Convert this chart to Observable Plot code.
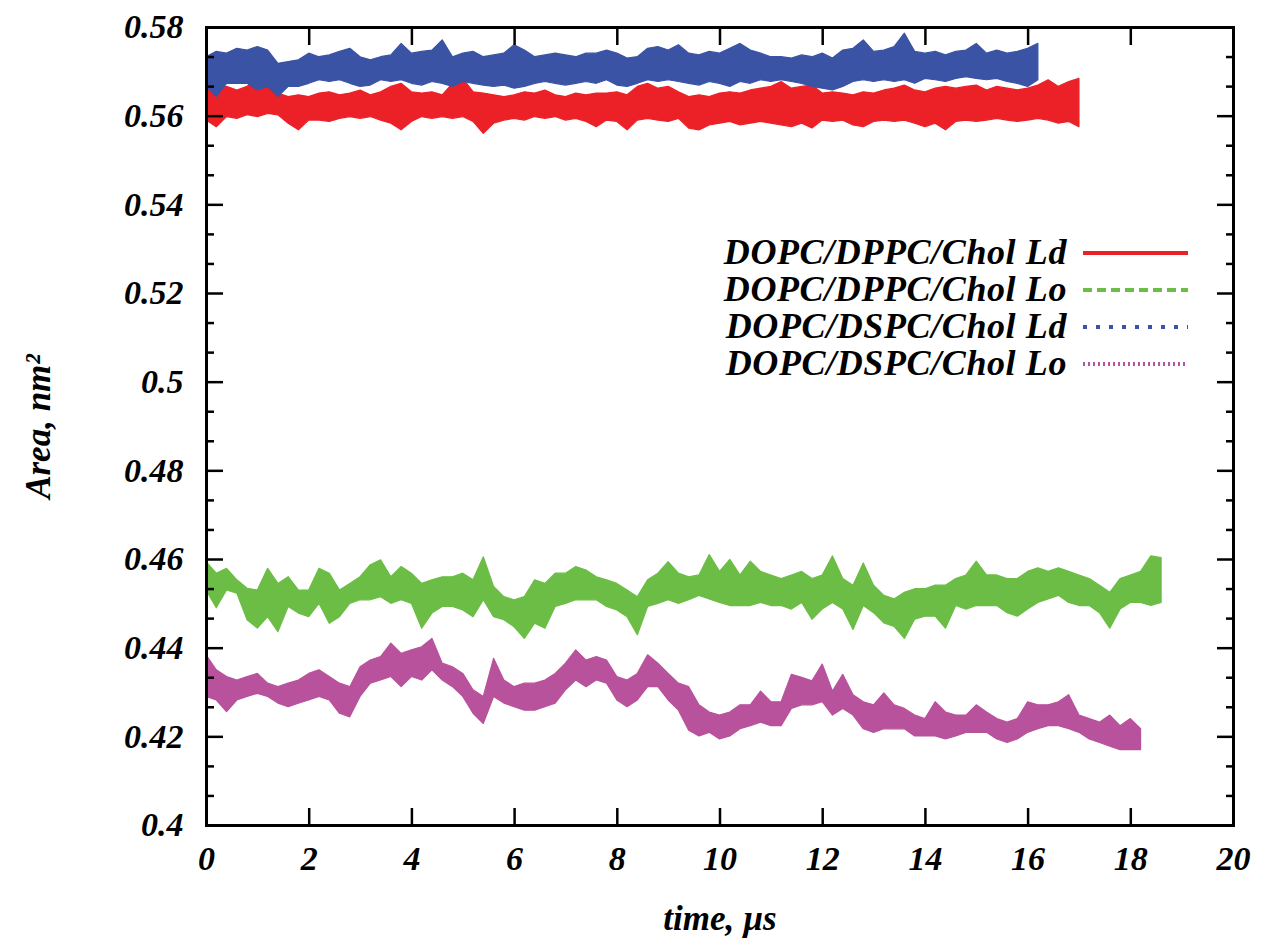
<!DOCTYPE html>
<html><head><meta charset="utf-8">
<script src="https://cdn.jsdelivr.net/npm/d3@7"></script>
<script src="https://cdn.jsdelivr.net/npm/@observablehq/plot@0.6"></script>
<style>
body{margin:0;background:#fff;}
#wrap{position:relative;width:1262px;height:939px;background:#fff;}
.leg{position:absolute;font-family:"Liberation Serif","Times New Roman",serif;font-weight:bold;font-style:italic;font-size:36px;letter-spacing:0.6px;line-height:38px;white-space:nowrap;text-align:right;color:#000;}
.legline{position:absolute;}
</style></head><body><div id="wrap"></div><script>
// sampling step of the traces (microseconds)
const dt = 0.2;

const seriesNames = ["DOPC/DPPC/Chol Ld", "DOPC/DPPC/Chol Lo", "DOPC/DSPC/Chol Ld", "DOPC/DSPC/Chol Lo"];
const seriesColors = ["#ec2127", "#6bbd45", "#3a53a4", "#b8529c"];
const legendDash = ["none", "9,5", "4,9", "2,3"];

// upper / lower envelope of each noisy trace, every 0.2 µs
const redHi = [0.5658,0.5662,0.5666,0.5658,0.5666,0.5688,0.5677,0.5651,0.5643,0.5647,
0.5643,0.5651,0.5654,0.5647,0.5651,0.5658,0.5647,0.5654,0.5666,0.5673,
0.5654,0.5651,0.5654,0.5647,0.5673,0.5684,0.5654,0.5651,0.5647,0.5643,
0.5647,0.5654,0.5651,0.5658,0.5647,0.5643,0.5651,0.5647,0.5651,
0.5651,0.5654,0.5647,0.5666,0.5673,0.5662,0.5666,0.5654,0.5643,0.5647,0.5643,
0.5651,0.5654,0.5651,0.5658,0.5662,0.5666,
0.5677,0.5662,0.5666,0.5669,
0.5651,0.5654,0.5651,0.5647,0.5654,
0.5651,0.5658,0.5662,0.5669,0.5658,
0.5654,0.5662,0.5666,0.5662,0.5666,
0.5669,0.5658,0.5666,0.5662,0.5658,
0.5662,0.5669,0.5681,0.5666,0.5677,
0.5684];
const redLo = [0.5590,0.5575,0.5598,0.5594,0.5602,0.5598,0.5605,0.5602,0.5583,0.5568,
0.5590,0.5590,0.5587,0.5594,0.5598,0.5594,0.5598,0.5590,0.5583,0.5568,
0.5587,0.5598,0.5594,0.5598,0.5594,0.5598,0.5587,0.5560,0.5583,0.5590,
0.5594,0.5590,0.5598,0.5594,0.5598,0.5590,0.5594,0.5587,0.5575,
0.5590,0.5587,0.5568,0.5590,0.5594,0.5590,0.5587,0.5594,0.5572,0.5568,0.5579,
0.5583,0.5587,0.5579,0.5583,0.5587,0.5583,
0.5579,0.5575,0.5583,0.5572,
0.5590,0.5587,0.5590,0.5579,0.5575,
0.5587,0.5590,0.5587,0.5590,0.5583,
0.5575,0.5583,0.5568,0.5587,0.5590,
0.5587,0.5590,0.5594,0.5590,0.5587,
0.5590,0.5594,0.5590,0.5583,0.5587,
0.5575];

const greenHi = [0.4594,0.4568,0.4579,0.4553,0.4534,0.4530,0.4579,0.4545,0.4560,0.4530,
0.4530,0.4579,0.4568,0.4530,0.4545,0.4560,0.4587,0.4598,0.4560,0.4583,
0.4568,0.4545,0.4553,0.4560,0.4560,0.4568,0.4553,0.4605,0.4538,0.4515,
0.4508,0.4515,0.4553,0.4545,0.4568,0.4568,0.4583,0.4575,0.4560,0.4553,
0.4545,0.4530,0.4515,0.4553,0.4568,0.4594,0.4568,0.4560,0.4564,0.4610,
0.4572,0.4599,0.4564,0.4595,0.4572,0.4564,0.4556,0.4564,0.4572,0.4556,
0.4564,0.4607,0.4556,0.4541,0.4591,0.4541,0.4518,0.4510,0.4525,0.4533,
0.4533,0.4541,0.4541,0.4556,0.4564,0.4595,0.4564,0.4564,0.4556,0.4556,
0.4572,0.4580,0.4572,0.4580,0.4572,0.4564,0.4556,0.4541,0.4525,0.4556,
0.4564,0.4572,0.4607,0.4603];
const greenLo = [0.4530,0.4490,0.4530,0.4523,0.4463,0.4444,0.4470,0.4436,0.4493,0.4478,
0.4470,0.4500,0.4455,0.4470,0.4500,0.4508,0.4508,0.4515,0.4500,0.4508,
0.4500,0.4444,0.4478,0.4493,0.4493,0.4485,0.4470,0.4508,0.4470,0.4463,
0.4447,0.4421,0.4455,0.4444,0.4493,0.4500,0.4508,0.4508,0.4508,0.4493,
0.4485,0.4470,0.4429,0.4493,0.4500,0.4508,0.4500,0.4508,0.4518,0.4510,
0.4502,0.4495,0.4495,0.4495,0.4502,0.4495,0.4495,0.4487,0.4502,0.4464,
0.4487,0.4502,0.4487,0.4441,0.4495,0.4479,0.4456,0.4448,0.4421,0.4464,
0.4471,0.4471,0.4444,0.4495,0.4487,0.4495,0.4495,0.4495,0.4479,0.4471,
0.4487,0.4502,0.4510,0.4518,0.4502,0.4495,0.4495,0.4479,0.4444,0.4487,
0.4502,0.4502,0.4495,0.4502];

const blueHi = [0.5733,0.5745,0.5741,0.5752,0.5748,0.5756,0.5748,0.5718,0.5722,0.5726,
0.5741,0.5733,0.5737,0.5745,0.5752,0.5733,0.5726,0.5733,0.5737,0.5763,
0.5741,0.5745,0.5748,0.5771,0.5733,0.5741,0.5745,0.5733,0.5737,0.5741,
0.5760,0.5748,0.5733,0.5737,0.5741,0.5737,0.5733,0.5741,0.5741,
0.5748,0.5741,0.5730,0.5733,0.5752,0.5756,0.5748,0.5760,0.5741,0.5737,0.5745,
0.5741,0.5752,0.5763,0.5748,0.5741,0.5733,
0.5733,0.5730,0.5737,0.5733,
0.5741,0.5730,0.5748,0.5752,0.5771,
0.5745,0.5748,0.5756,0.5786,0.5745,
0.5741,0.5745,0.5737,0.5745,0.5748,
0.5763,0.5741,0.5748,0.5741,0.5745,
0.5752,0.5763];
const blueLo = [0.5666,0.5643,0.5673,0.5673,0.5673,0.5658,0.5666,0.5643,0.5666,0.5666,
0.5673,0.5681,0.5677,0.5681,0.5673,0.5666,0.5669,0.5681,0.5677,0.5681,
0.5673,0.5669,0.5677,0.5673,0.5666,0.5677,0.5673,0.5669,0.5666,0.5669,
0.5662,0.5666,0.5673,0.5677,0.5673,0.5669,0.5673,0.5677,0.5673,
0.5681,0.5669,0.5666,0.5673,0.5681,0.5677,0.5681,0.5677,0.5673,0.5669,0.5677,
0.5673,0.5666,0.5677,0.5673,0.5681,0.5677,
0.5681,0.5677,0.5673,0.5666,
0.5662,0.5658,0.5666,0.5677,0.5681,
0.5677,0.5681,0.5677,0.5681,0.5673,
0.5684,0.5681,0.5677,0.5684,0.5688,
0.5684,0.5681,0.5684,0.5677,0.5673,
0.5666,0.5681];

const magentaHi = [0.4384,0.4350,0.4335,0.4327,0.4335,0.4342,0.4320,0.4312,0.4320,0.4327,
0.4342,0.4350,0.4335,0.4320,0.4312,0.4357,0.4372,0.4380,0.4410,0.4387,
0.4395,0.4402,0.4421,0.4365,0.4357,0.4342,0.4305,0.4290,0.4376,0.4327,
0.4312,0.4320,0.4320,0.4327,0.4342,0.4365,0.4395,0.4372,0.4380,0.4372,
0.4335,0.4327,0.4342,0.4384,0.4365,0.4342,0.4320,0.4312,0.4271,0.4255,
0.4248,0.4255,0.4271,0.4271,0.4302,0.4278,0.4278,0.4340,0.4333,0.4325,
0.4363,0.4302,0.4340,0.4294,0.4278,0.4271,0.4298,0.4271,0.4263,0.4248,
0.4240,0.4278,0.4255,0.4248,0.4248,0.4271,0.4255,0.4240,0.4232,0.4240,
0.4278,0.4271,0.4271,0.4278,0.4294,0.4248,0.4240,0.4232,0.4248,0.4224,
0.4240,0.4217];
const magentaLo = [0.4290,0.4282,0.4256,0.4282,0.4290,0.4297,0.4290,0.4275,0.4267,0.4275,
0.4282,0.4290,0.4282,0.4252,0.4244,0.4290,0.4320,0.4327,0.4335,0.4312,
0.4335,0.4327,0.4350,0.4327,0.4312,0.4290,0.4252,0.4229,0.4290,0.4275,
0.4267,0.4259,0.4259,0.4267,0.4275,0.4305,0.4327,0.4312,0.4327,0.4320,
0.4282,0.4267,0.4282,0.4312,0.4312,0.4282,0.4259,0.4214,0.4201,0.4209,
0.4194,0.4201,0.4217,0.4224,0.4232,0.4224,0.4224,0.4263,0.4271,0.4271,
0.4278,0.4248,0.4263,0.4248,0.4217,0.4209,0.4217,0.4217,0.4217,0.4201,
0.4201,0.4201,0.4194,0.4201,0.4209,0.4209,0.4209,0.4194,0.4186,0.4194,
0.4209,0.4217,0.4224,0.4224,0.4217,0.4209,0.4194,0.4186,0.4178,0.4170,
0.4170,0.4170];

const xTicks = [0, 2, 4, 6, 8, 10, 12, 14, 16, 18, 20];
const yTicks = [0.4, 0.42, 0.44, 0.46, 0.48, 0.5, 0.52, 0.54, 0.56, 0.58];
const xTitle = "time, µs";
const yTitle = "Area, nm²";

const envelopes = [[redLo, redHi], [greenLo, greenHi], [blueLo, blueHi], [magentaLo, magentaHi]];
const rows = envelopes.flatMap(([lo, hi], k) =>
  lo.map((v, i) => ({series: seriesNames[k], t: Math.round(i * dt * 10) / 10, lo: v, hi: hi[i]})));

const yMinor = [];
for (let i = 0; i < yTicks.length - 1; i++) {
  const a = yTicks[i], b = yTicks[i + 1];
  yMinor.push(a + (b - a) / 3, a + 2 * (b - a) / 3);
}

const fmtY = d => String(+d.toFixed(2));

const chart = Plot.plot({
  width: 1262, height: 939,
  marginLeft: 206, marginRight: 29, marginTop: 27, marginBottom: 114,
  x: {domain: [0, 20], label: null},
  y: {domain: [0.4, 0.58], label: null},
  color: {domain: seriesNames, range: seriesColors},
  style: {fontFamily: "'Liberation Serif','Times New Roman',serif", fontSize: "34px", fontWeight: "bold", fontStyle: "italic", background: "white", color: "black", overflow: "visible"},
  marks: [
    Plot.areaY(rows, {x: "t", y1: "lo", y2: "hi", z: "series", fill: "series", stroke: "series", strokeWidth: 1.2}),
    Plot.frame({strokeWidth: 3}),
    Plot.axisX(xTicks, {anchor: "bottom", tickSize: -17, strokeWidth: 2.5, fill: "none", label: null}),
    Plot.axisX(xTicks, {anchor: "top", tickSize: -17, strokeWidth: 2.5, fill: "none", label: null}),
    Plot.axisX(xTicks, {anchor: "bottom", tickSize: 0, tickPadding: 20, tickFormat: d => String(d), label: null}),
    Plot.axisY(yTicks, {anchor: "left", tickSize: -17, strokeWidth: 2.5, fill: "none", label: null}),
    Plot.axisY(yTicks, {anchor: "right", tickSize: -17, strokeWidth: 2.5, fill: "none", label: null}),
    Plot.axisY(yMinor, {anchor: "left", tickSize: -8, strokeWidth: 2.5, fill: "none", label: null}),
    Plot.axisY(yMinor, {anchor: "right", tickSize: -8, strokeWidth: 2.5, fill: "none", label: null}),
    Plot.axisY(yTicks, {anchor: "left", tickSize: 0, tickPadding: 23, tickFormat: fmtY, label: null}),
    Plot.text([xTitle], {text: d => d, frameAnchor: "bottom", textAnchor: "middle", lineAnchor: "middle", dy: 93, fontSize: 35}),
    Plot.text([yTitle], {text: d => d, frameAnchor: "left", textAnchor: "middle", lineAnchor: "middle", dx: -168, rotate: -90, fontSize: 35})
  ]
});

const wrap = document.getElementById("wrap");
wrap.appendChild(chart);

// legend (inside the plot area, top right)
seriesNames.forEach((name, i) => {
  const cy = 253 + i * 37;
  const t = document.createElement("div");
  t.className = "leg";
  t.style.right = (1262 - 1067) + "px";
  t.style.top = (cy - 20) + "px";
  t.textContent = name;
  wrap.appendChild(t);
  const ns = "http://www.w3.org/2000/svg";
  const s = document.createElementNS(ns, "svg");
  s.setAttribute("class", "legline");
  s.setAttribute("width", 106);
  s.setAttribute("height", 10);
  s.style.left = "1083px";
  s.style.top = (cy - 5) + "px";
  const l = document.createElementNS(ns, "line");
  l.setAttribute("x1", 0); l.setAttribute("x2", 105);
  l.setAttribute("y1", 5); l.setAttribute("y2", 5);
  l.setAttribute("stroke", seriesColors[i]);
  l.setAttribute("stroke-width", 4);
  if (legendDash[i] !== "none") l.setAttribute("stroke-dasharray", legendDash[i]);
  s.appendChild(l);
  wrap.appendChild(s);
});
</script></body></html>
